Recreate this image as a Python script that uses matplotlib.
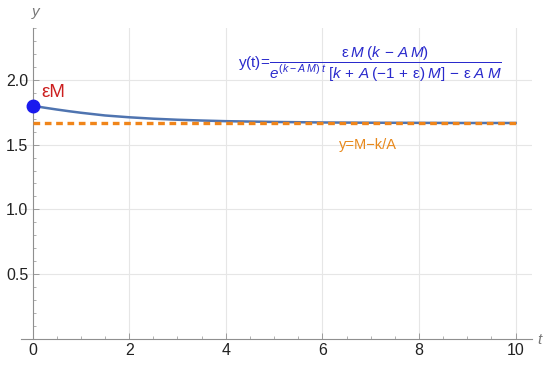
import matplotlib
matplotlib.use("Agg")
import matplotlib.pyplot as plt
from matplotlib.ticker import MultipleLocator

# values
t_vals = [0, 0.25, 0.5, 0.75, 1, 1.5, 2, 2.5, 3, 3.5, 4, 4.5, 5, 6, 7, 8, 9, 10]
y_vals = [1.800, 1.785, 1.771, 1.758, 1.746, 1.725, 1.711, 1.700, 1.692, 1.686,
          1.681, 1.678, 1.675, 1.671, 1.669, 1.668, 1.667, 1.667]
eq_level = 1.6667      # y = M - k/A
start_pt = (0, 1.8)    # eps*M
x_ticks = [0, 2, 4, 6, 8, 10]
y_ticks = [0.5, 1.0, 1.5, 2.0]

plt.rcParams['font.family'] = ['Liberation Sans', 'DejaVu Sans']
plt.rcParams['mathtext.fontset'] = 'custom'
plt.rcParams['mathtext.rm'] = 'Liberation Sans'
plt.rcParams['mathtext.it'] = 'Liberation Sans:italic'

axis_col = '#8f8f8f'
grid_col = '#e6e6e6'

fig = plt.figure(figsize=(5.5, 3.65), dpi=100)
ax = fig.add_axes([21 / 550, 26 / 365, 511 / 550, 311 / 365])
ax.set_xlim(-0.24, 10.34)
ax.set_ylim(0, 2.4)

# axes through the origin
for s in ['top', 'right']:
    ax.spines[s].set_visible(False)
ax.spines['left'].set_position(('data', 0))
ax.spines['bottom'].set_position(('data', 0))
for s in ['left', 'bottom']:
    ax.spines[s].set_color(axis_col)
    ax.spines[s].set_linewidth(0.8)

ax.set_xticks(x_ticks)
ax.set_yticks(y_ticks)
ax.set_yticklabels(['%.1f' % v for v in y_ticks])
ax.xaxis.set_minor_locator(MultipleLocator(0.5))
ax.yaxis.set_minor_locator(MultipleLocator(0.1))
ax.tick_params(which='major', direction='in', length=4, width=0.6, color=axis_col,
               labelsize=11.5, labelcolor='#222222')
ax.tick_params(which='minor', direction='in', length=2.5, width=0.5, color=axis_col)
ax.tick_params(axis='x', pad=3)
ax.tick_params(axis='y', pad=3)

for v in x_ticks[1:]:
    ax.axvline(v, color=grid_col, lw=0.8, zorder=0)
for v in y_ticks:
    ax.axhline(v, color=grid_col, lw=0.8, zorder=0)

ax.plot(t_vals, y_vals, color='#4f74b0', lw=1.8, zorder=3)
ax.plot([0, 10], [eq_level, eq_level], color='#f0851a', lw=2.4,
        linestyle=(0, (2.0, 1.4)), dash_capstyle='butt', zorder=4)
ax.plot([start_pt[0]], [start_pt[1]], 'o', color='#1a1aee', ms=9, zorder=5, clip_on=False)

ax.text(0.18, 1.90, 'εM', color='#cc1f1f', fontsize=13.5, ha='left', va='center')
ax.text(6.95, 1.50, 'y=M−k/A', color='#e8891c', fontsize=10.5, ha='center', va='center')

formula = (r'$\mathrm{y(t)}\!=\!\dfrac{\mathrm{\varepsilon}\, M\; (k\, -\, A\, M)}'
           r'{e^{(k - A\, M)\; t}\;[k\, +\, A\; (-1\, +\, \mathrm{\varepsilon})\; M]\, -\, \mathrm{\varepsilon}\; A\; M}$')
ax.text(6.98, 2.12, formula, color='#2a2acc', fontsize=11, ha='center', va='center')

ax.text(0.06, 2.52, 'y', color='#777777', fontsize=11, style='italic', ha='center', va='center')
ax.text(10.5, -0.01, 't', color='#777777', fontsize=11, style='italic', ha='center', va='center')

fig.savefig('out.png', dpi=100)
